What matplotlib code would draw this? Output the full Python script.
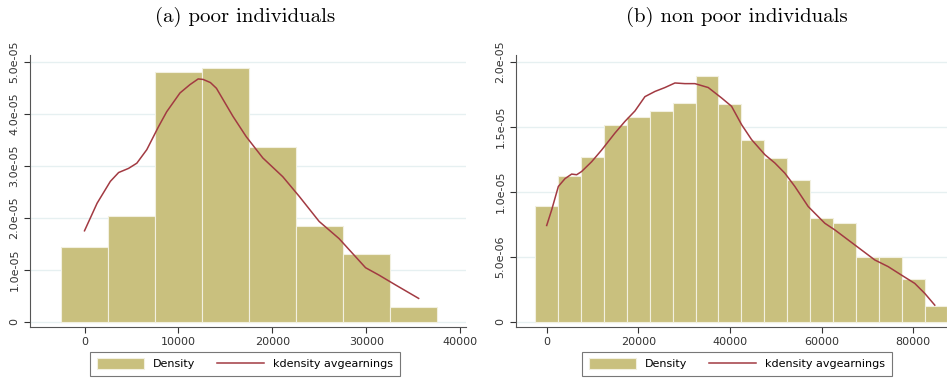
import numpy as np
import matplotlib.pyplot as plt

# histogram bins (width 5000, left edges)
poor_left = np.arange(-2500, 37500, 5000)
poor_dens = np.array([1.44, 2.03, 4.81, 4.88, 3.36, 1.84, 1.30, 0.28]) * 1e-5

nonpoor_left = np.arange(-2500, 87500, 5000)
nonpoor_dens = np.array([0.89, 1.12, 1.27, 1.51, 1.57, 1.62, 1.68, 1.89, 1.67,
                         1.40, 1.26, 1.09, 0.80, 0.76, 0.50, 0.50, 0.33, 0.12]) * 1e-5

# kernel density curves
poor_kx = [0, 1340, 2750, 3630, 4690, 5570, 6630, 7870, 8750, 10160, 11220, 12100,
           12630, 13400, 14040, 15800, 17210, 18980, 21100, 22860, 24970, 27090, 28500,
           29910, 31320, 33090, 35560]
poor_ky = np.array([1.75, 2.28, 2.70, 2.87, 2.95, 3.05, 3.31, 3.75, 4.04, 4.40, 4.56, 4.67,
                    4.66, 4.60, 4.49, 3.95, 3.56, 3.15, 2.79, 2.41, 1.93, 1.60, 1.32,
                    1.04, 0.90, 0.71, 0.45]) * 1e-5

nonpoor_kx = [0, 1090, 2545, 4000, 5450, 6545, 7636, 9818, 12000, 14900, 17090, 19270,
              21450, 23640, 25820, 28000, 30180, 32360, 35270, 38180, 40360, 42550,
              44730, 47640, 49820, 52000, 54180, 57090, 58550, 60730, 62910, 65820,
              68730, 71640, 74550, 77450, 80360, 82550, 84730]
nonpoor_ky = np.array([0.74, 0.86, 1.04, 1.10, 1.135, 1.13, 1.155, 1.23, 1.32, 1.45, 1.54, 1.62,
                       1.73, 1.77, 1.80, 1.835, 1.83, 1.83, 1.80, 1.72, 1.656, 1.515,
                       1.40, 1.284, 1.22, 1.142, 1.04, 0.886, 0.834, 0.757, 0.706, 0.629,
                       0.552, 0.475, 0.424, 0.359, 0.295, 0.218, 0.128]) * 1e-5

bar_color = '#c9c07e'
line_color = '#a23a42'
grid_color = '#e6f0f1'

fig = plt.figure(figsize=(9.47, 3.82), dpi=100)
W, H = 947, 382


def panel(rect, left, dens, kx, ky, xlim, ylim, xticks, yticks, ylabels, title, leg_x):
    ax = fig.add_axes([rect[0] / W, 1 - rect[3] / H, (rect[2] - rect[0]) / W, (rect[3] - rect[1]) / H])
    bars = ax.bar(left, dens, width=5000, align='edge', color=bar_color, edgecolor='#f2f0e0',
                  linewidth=0.8, zorder=2)
    line, = ax.plot(kx, ky, color=line_color, linewidth=1.1, zorder=3)
    ax.set_xlim(*xlim)
    ax.set_ylim(*ylim)
    ax.set_xticks(xticks)
    ax.set_xticklabels([str(t) for t in xticks], fontsize=8)
    ax.set_yticks(yticks)
    ax.set_yticklabels(ylabels, fontsize=8, rotation=90, va='center')
    ax.yaxis.grid(True, color=grid_color, linewidth=1, zorder=0)
    ax.set_axisbelow(True)
    for s in ['top', 'right']:
        ax.spines[s].set_visible(False)
    for s in ['left', 'bottom']:
        ax.spines[s].set_color('#555555')
        ax.spines[s].set_linewidth(0.8)
    ax.tick_params(direction='out', length=4, width=0.8, colors='#333333')
    fig.text(leg_x / W, 1 - 17 / H, title, ha='center', va='center', fontsize=15, family='cmr10')
    leg = ax.legend([bars, line], ['Density', 'kdensity avgearnings'],
                    loc='upper center', bbox_to_anchor=(leg_x / W, 1 - 346 / H),
                    bbox_transform=fig.transFigure, ncol=2, fontsize=8, frameon=True,
                    fancybox=False, edgecolor='#555555', handlelength=4.2, handleheight=1.1,
                    columnspacing=2.0, borderpad=0.6)
    leg.get_frame().set_linewidth(0.8)
    return ax


panel((30, 55, 466, 327), poor_left, poor_dens, poor_kx, poor_ky,
      (-5800, 40600), (-0.1e-5, 5.13e-5), [0, 10000, 20000, 30000, 40000],
      np.arange(0, 6) * 1e-5, ['0', '1.0e-05', '2.0e-05', '3.0e-05', '4.0e-05', '5.0e-05'],
      '(a) poor individuals', 245)

panel((516, 55, 947, 327), nonpoor_left, nonpoor_dens, nonpoor_kx, nonpoor_ky,
      (-6700, 87400), (-0.04e-5, 2.05e-5), [0, 20000, 40000, 60000, 80000],
      np.arange(0, 5) * 0.5e-5, ['0', '5.0e-06', '1.0e-05', '1.5e-05', '2.0e-05'],
      '(b) non poor individuals', 737)

fig.savefig('out.png', dpi=100)
